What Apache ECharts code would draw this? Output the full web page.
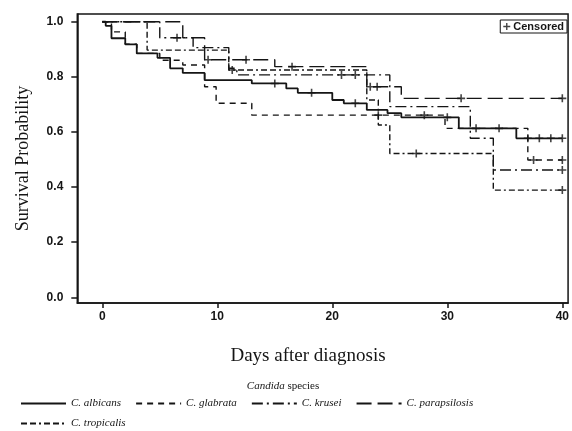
<!DOCTYPE html>
<html>
<head>
<meta charset="utf-8">
<script src="https://cdn.jsdelivr.net/npm/echarts@6/dist/echarts.min.js"></script>
<style>
html,body{margin:0;padding:0;background:#fff;}
#chart{width:572px;height:431px;}
</style>
</head>
<body>
<div id="chart"></div>
<script>
// ---- data ----
const speciesNames = ['C. albicans', 'C. glabrata', 'C. krusei', 'C. parapsilosis', 'C. tropicalis'];
const xTicks = [0, 10, 20, 30, 40];
const yTicks = [0.0, 0.2, 0.4, 0.6, 0.8, 1.0];

// Kaplan-Meier step points [day, survival after the event]
const albicans = [[0,1],[0.3,0.985],[0.8,0.94],[2,0.918],[3,0.885],[4.8,0.869],[5.9,0.831],[7,0.814],[8.9,0.788],[13,0.776],[16,0.758],[17,0.742],[20,0.716],[21,0.704],[23,0.68],[24.8,0.668],[26,0.653],[31,0.613],[36,0.577],[40,0.577]];
const glabrata = [[0,1],[0.8,0.963],[2,0.918],[3,0.885],[5,0.86],[7,0.843],[8.9,0.764],[9.9,0.704],[13,0.661],[29.8,0.613],[37,0.498],[40,0.498]];
const krusei = [[0,1],[5,0.942],[7.9,0.906],[11,0.831],[11.7,0.807],[25,0.692],[32,0.577],[34,0.462],[40,0.462]];
const parapsilosis = [[0,1],[7,0.942],[8.9,0.862],[15,0.837],[23,0.764],[26,0.722],[40,0.722]];
const tropicalis = [[0,1],[3.9,0.897],[11,0.825],[23,0.716],[24,0.625],[25,0.522],[34,0.389],[40,0.389]];

// censored observations [day, survival]
const censAlbicans = [[15,0.776],[18.2,0.742],[22,0.704],[30,0.653],[32.5,0.613],[34.5,0.613],[37,0.577],[38,0.577],[39,0.577],[40,0.577]];
const censGlabrata = [[24,0.661],[28,0.661],[37.5,0.498],[40,0.498]];
const censKrusei = [[6.5,0.942],[20.8,0.807],[22,0.807],[40,0.462]];
const censParapsilosis = [[9.2,0.862],[12.5,0.862],[16.5,0.837],[23.3,0.764],[23.9,0.764],[31.2,0.722],[40,0.722]];
const censTropicalis = [[11.3,0.825],[27.3,0.522],[40,0.389]];

// ---- styling ----
const ink = '#151515';
const dashes = {
  'C. albicans': 'solid',
  'C. glabrata': [6, 5],
  'C. krusei': [11, 4, 2, 4],
  'C. parapsilosis': [15, 6],
  'C. tropicalis': [6, 3, 6, 3, 2, 3]
};
const curves = [albicans, glabrata, krusei, parapsilosis, tropicalis];
const censAll = [].concat(censAlbicans, censGlabrata, censKrusei, censParapsilosis, censTropicalis);
const plusPath = 'path://M4,0H6V10H4Z M0,4H10V6H0Z';

const chart = echarts.init(document.getElementById('chart'), null, {renderer: 'canvas'});

const lineSeries = speciesNames.map((n, i) => ({
  name: n,
  type: 'line',
  step: 'end',
  data: curves[i],
  symbol: 'none',
  lineStyle: {color: ink, width: i === 0 ? 1.8 : 1.4, type: dashes[n]},
  itemStyle: {color: ink},
  emphasis: {disabled: true},
  z: 3
}));

const serif = 'Liberation Serif';
const legendText = {fontFamily: serif, fontStyle: 'italic', fontSize: 11, color: ink};
const lineLegendCommon = {itemWidth: 45, itemHeight: 12, textStyle: legendText, selectedMode: false,
  itemStyle: {opacity: 0}, lineStyle: {opacity: 1}};

chart.setOption({
  animation: false,
  backgroundColor: '#fff',
  title: [
    {text: 'Days after diagnosis', left: 303, top: 342, textAlign: 'center',
     textStyle: {fontFamily: serif, fontWeight: 'normal', fontSize: 19, color: ink}},
    {text: '{i|Candida} species', left: 278, top: 376, textAlign: 'center',
     textStyle: {fontFamily: serif, fontWeight: 'normal', fontSize: 11, color: ink,
       rich: {i: {fontFamily: serif, fontStyle: 'italic', fontSize: 11, color: ink}}}}
  ],
  grid: {left: 77.3, top: 14, width: 491.7, height: 289, show: true, borderColor: ink, borderWidth: 1.5,
         backgroundColor: 'transparent', containLabel: false},
  xAxis: {type: 'value', min: -2.17, max: 40.5,
     axisLine: {show: true, onZero: false, lineStyle: {color: ink, width: 1.5}},
     axisTick: {show: true, length: 5, customValues: xTicks, lineStyle: {color: ink, width: 1.5}},
     axisLabel: {margin: 8, customValues: xTicks, fontFamily: 'Liberation Sans', fontWeight: 'bold', fontSize: 12, color: ink},
     splitLine: {show: false}},
  yAxis: {type: 'value', min: -0.0207, max: 1.028,
     name: 'Survival Probability', nameLocation: 'middle', nameGap: 45, nameRotate: 90,
     nameTextStyle: {fontFamily: serif, fontSize: 18, color: ink},
     axisLine: {show: true, onZero: false, lineStyle: {color: ink, width: 1.5}},
     axisTick: {show: true, length: 6, customValues: yTicks, lineStyle: {color: ink, width: 1.5}},
     axisLabel: {margin: 14, customValues: yTicks, fontFamily: 'Liberation Sans', fontWeight: 'bold', fontSize: 12, color: ink,
       formatter: v => v.toFixed(1)},
     splitLine: {show: false}},
  legend: [
    Object.assign({data: speciesNames.slice(0, 4), left: 15, top: 393, itemGap: 14}, lineLegendCommon),
    Object.assign({data: speciesNames.slice(4), left: 15, top: 413}, lineLegendCommon),
    {data: ['Censored'], right: 5, top: 20, itemWidth: 7, itemHeight: 7, itemGap: 3,
     padding: [1, 3, 1, 3], borderColor: ink, borderWidth: 1,
     textStyle: {fontFamily: 'Liberation Sans', fontWeight: 'bold', fontSize: 11, color: ink, padding: [0,0,0,-2]},
     selectedMode: false}
  ],
  series: lineSeries.concat([{
    name: 'Censored',
    type: 'scatter',
    data: censAll,
    symbol: plusPath,
    symbolSize: 8,
    itemStyle: {color: ink},
    emphasis: {disabled: true},
    z: 4
  }])
});
</script>
</body>
</html>
